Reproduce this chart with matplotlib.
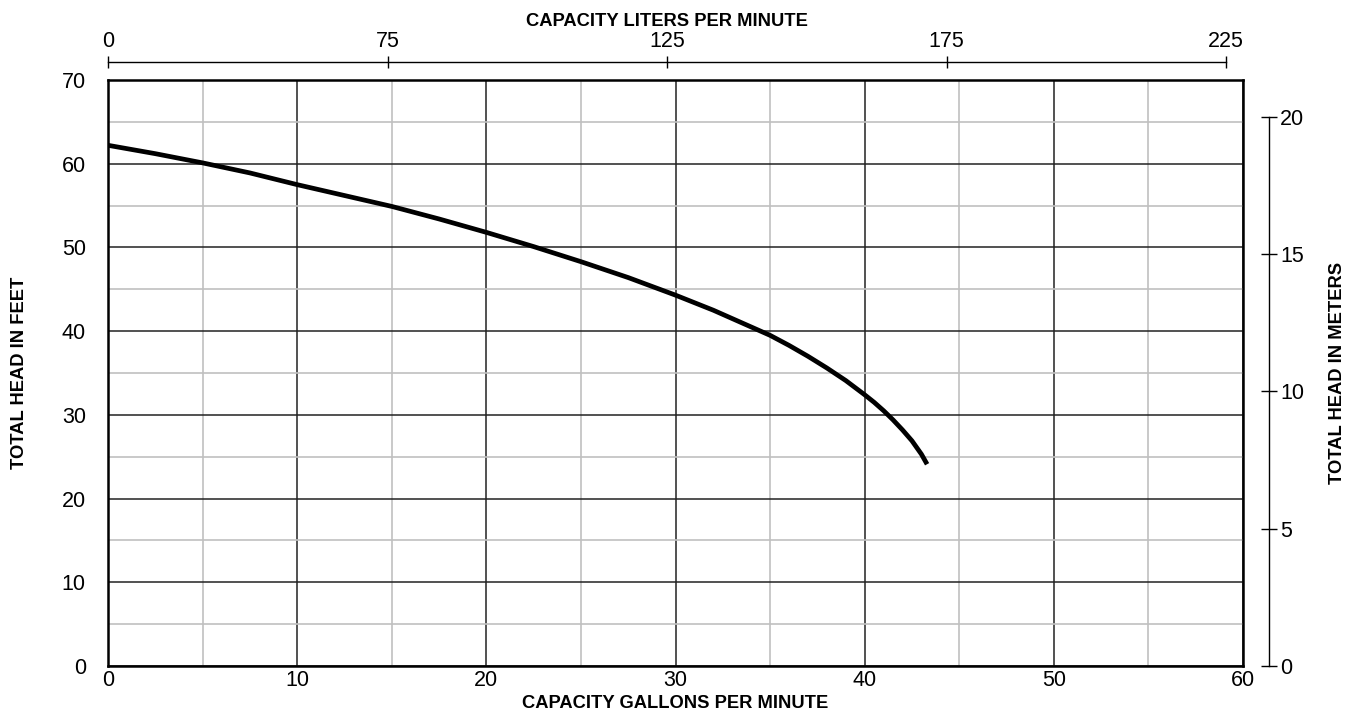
import numpy as np
import matplotlib.pyplot as plt

plt.rcParams['font.family'] = ['Liberation Sans', 'DejaVu Sans']

# pump curve (gallons per minute vs feet of head)
gpm = [0, 2.5, 5, 7.5, 10, 12.5, 15, 17.5, 20, 22.5, 25, 27.5, 30, 31, 32,
       33, 34, 35, 36, 37, 38, 39, 40, 40.5, 41, 41.5, 42, 42.5, 43, 43.3]
head_ft = [62.2, 61.2, 60.1, 58.9, 57.5, 56.2, 54.9, 53.4, 51.8, 50.1, 48.3,
           46.4, 44.3, 43.4, 42.5, 41.5, 40.5, 39.5, 38.3, 37.0, 35.6, 34.1,
           32.4, 31.5, 30.5, 29.4, 28.2, 26.9, 25.3, 24.1]

lpm_labels = ['0', '75', '125', '175', '225']
meter_ticks = [0, 5, 10, 15, 20]
FT_PER_M = 3.2808

W, H = 1364, 716
fig = plt.figure(figsize=(W / 100, H / 100), dpi=100)

# main chart
ax = fig.add_axes([108 / W, 50 / H, (1243 - 108) / W, (666 - 80) / H])
ax.plot(gpm, head_ft, color='black', lw=3.4, solid_capstyle='butt',
        solid_joinstyle='round', zorder=5)
ax.set_xlim(0, 60)
ax.set_ylim(0, 70)
ax.set_xticks(np.arange(0, 61, 10))
ax.set_yticks(np.arange(0, 71, 10))
ax.set_xticks(np.arange(5, 60, 10), minor=True)
ax.set_yticks(np.arange(5, 70, 10), minor=True)
ax.grid(which='minor', color='#c0c0c0', lw=1.2)
ax.grid(which='major', color='#222222', lw=1.1)
ax.tick_params(which='both', length=0, labelsize=15.5)
ax.tick_params(axis='y', pad=16)
ax.tick_params(axis='x', pad=3)
for s in ax.spines.values():
    s.set_linewidth(1.8)
ax.set_xlabel('CAPACITY GALLONS PER MINUTE', fontsize=13.2, fontweight='bold',
              labelpad=3)
ax.set_ylabel('TOTAL HEAD IN FEET', fontsize=13.2, fontweight='bold',
              labelpad=24)

# top liters scale
axt = fig.add_axes([108 / W, (H - 62) / H, (1226 - 108) / W, 0.0001])
axt.set_xlim(0, len(lpm_labels) - 1)
axt.patch.set_visible(False)
for k in ['left', 'right', 'bottom']:
    axt.spines[k].set_visible(False)
axt.spines['top'].set_linewidth(1.0)
axt.set_yticks([])
axt.xaxis.tick_top()
axt.set_xticks(range(len(lpm_labels)))
axt.set_xticklabels(lpm_labels)
axt.tick_params(axis='x', direction='inout', length=9, width=1.0,
                labelsize=15.5, pad=2.5)
axt.set_xlabel('CAPACITY LITERS PER MINUTE', fontsize=13.2, fontweight='bold',
               labelpad=4)
axt.xaxis.set_label_position('top')

# right meters scale
axr = fig.add_axes([1269 / W, 50 / H, 0.0001, (666 - 80) / H])
axr.set_ylim(0, 70 / FT_PER_M)
axr.patch.set_visible(False)
for k in ['left', 'top', 'bottom']:
    axr.spines[k].set_visible(False)
axr.spines['right'].set_linewidth(1.0)
axr.spines['right'].set_bounds(0, 20)
axr.set_xticks([])
axr.yaxis.tick_right()
axr.set_yticks(meter_ticks)
axr.tick_params(axis='y', direction='inout', length=11.5, width=1.0,
                labelsize=15.5, pad=2)
axr.yaxis.set_label_position('right')
axr.set_ylabel('TOTAL HEAD IN METERS', fontsize=13.2, fontweight='bold',
               labelpad=18)

fig.savefig('out.png', dpi=100)
